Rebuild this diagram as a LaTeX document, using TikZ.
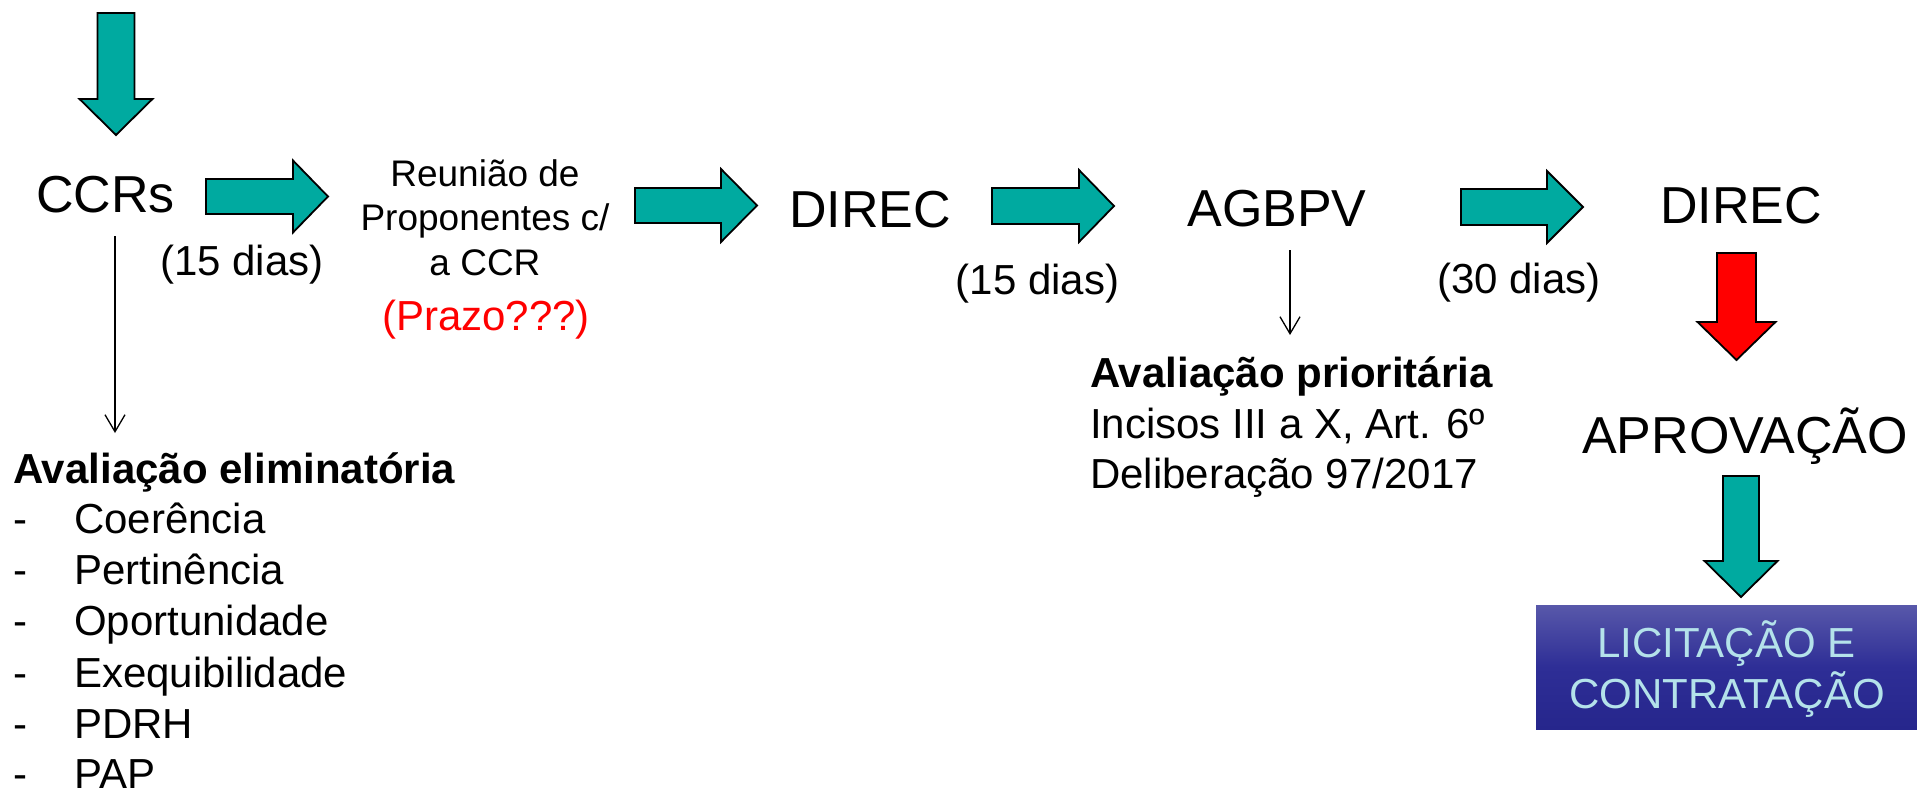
\documentclass[tikz,border=0pt]{standalone}
\usepackage{fontspec}
\setmainfont{Liberation Sans}
\usetikzlibrary{arrows.meta}
\definecolor{tealfill}{RGB}{0,170,160}
\definecolor{boxtext}{RGB}{180,226,234}
\definecolor{boxtop}{RGB}{88,88,170}
\definecolor{boxmid}{RGB}{46,46,150}
\definecolor{boxbot}{RGB}{38,38,140}
\newcommand{\fsz}[1]{\fontsize{#1}{#1}\selectfont}
\tikzset{
  blockarrow/.style={draw=black, line width=1.8pt, line join=miter},
  txt/.style={inner sep=0pt, font=\fsz{42}},
  bigtxt/.style={inner sep=0pt, font=\fsz{52}},
  reutxt/.style={inner sep=0pt, font=\fsz{37}},
  thinarrow/.style={line width=1.3pt, -{Straight Barb[length=17pt,width=20pt,line width=1.3pt]}}
}
% right block arrow: x0, x1 (head base), x2 (tip), yc, half shaft, half head
\newcommand{\harrow}[6]{%
  \filldraw[blockarrow, fill=tealfill] (#1,#4-#5) -- (#2,#4-#5) -- (#2,#4-#6) -- (#3,#4) -- (#2,#4+#6) -- (#2,#4+#5) -- (#1,#4+#5) -- cycle;}
% down block arrow: xc, half shaft, half head, y0, y1 (head base), y2 (tip), colour
\newcommand{\varrow}[7]{%
  \filldraw[blockarrow, fill=#7] (#1-#2,#4) -- (#1+#2,#4) -- (#1+#2,#5) -- (#1+#3,#5) -- (#1,#6) -- (#1-#3,#5) -- (#1-#2,#5) -- cycle;}
\begin{document}
\begin{tikzpicture}[x=1pt,y=-1pt]
\useasboundingbox (0,0) rectangle (1917,789);
\fill[white] (0,0) rectangle (1917,789);

% block arrows
\varrow{116}{18.5}{36.5}{13}{99}{135}{tealfill}
\harrow{206}{293}{328}{196.5}{17.5}{36}
\harrow{635}{721}{757}{205.5}{17.5}{36.5}
\harrow{992}{1079}{1114}{206}{18}{36}
\harrow{1461}{1547}{1583}{207}{18}{36}
\varrow{1736.5}{19.5}{39}{253}{322}{360}{red}
\varrow{1741}{18}{36.5}{476}{561}{597}{tealfill}

% main labels
\node[bigtxt, anchor=base] (ccrs) at (105.5,212) {CCRs};
\node[txt, anchor=base] (dias1) at (242,275) {(15 dias)};
\node[reutxt, anchor=base] (reu1) at (485,186) {Reunião de};
\node[reutxt, anchor=base] (reu2) at (485,230) {Proponentes c/};
\node[reutxt, anchor=base] (reu3) at (485,275) {a CCR};
\node[txt, anchor=base, text=red] (prazo) at (486,330) {(Prazo???)};
\node[bigtxt, anchor=base] (direc1) at (870,227) {DIREC};
\node[txt, anchor=base] (dias2) at (1037.5,294) {(15 dias)};
\node[bigtxt, anchor=base] (agbpv) at (1277,226) {AGBPV};
\node[txt, anchor=base] (dias3) at (1519,293) {(30 dias)};
\node[bigtxt, anchor=base] (direc2) at (1741,223) {DIREC};
\node[bigtxt, anchor=base] (aprov) at (1745,453) {APROVAÇÃO};

% licitacao box
\shade[top color=boxtop, bottom color=boxbot, middle color=boxmid] (1536,605) rectangle (1917,729);
\node[txt, anchor=base, text=boxtext] (lic1) at (1726.5,657) {LICITAÇÃO E};
\node[txt, anchor=base, text=boxtext] (lic2) at (1727,708) {CONTRATAÇÃO};

% eliminatoria list
\node[txt, anchor=base west, font=\fsz{42}\bfseries] (elim) at (13,483) {Avaliação eliminatória};
\foreach \y/\t/\n in {533/Coerência/i1, 584/Pertinência/i2, 635/Oportunidade/i3, 687/Exequibilidade/i4, 738/PDRH/i5, 788/PAP/i6}{
  \node[txt, anchor=base west] (\n d) at (13,\y) {-};
  \node[txt, anchor=base west] (\n) at (74,\y) {\t};
}

% prioritaria text
\node[txt, anchor=base west, font=\fsz{42}\bfseries] (prio) at (1090,387) {Avaliação prioritária};
\node[txt, anchor=base west] (inc) at (1090,438) {Incisos III a X, Art. 6º};
\node[txt, anchor=base west] (del) at (1090,488) {Deliberação 97/2017};

% thin arrows
\coordinate (t1a) at (115,236);
\coordinate (t1b) at (115,433);
\coordinate (t2a) at (1290,250);
\coordinate (t2b) at (1290,335);
\draw[thinarrow] (t1a) -- (t1b);
\draw[thinarrow] (t2a) -- (t2b);
\end{tikzpicture}
\end{document}
